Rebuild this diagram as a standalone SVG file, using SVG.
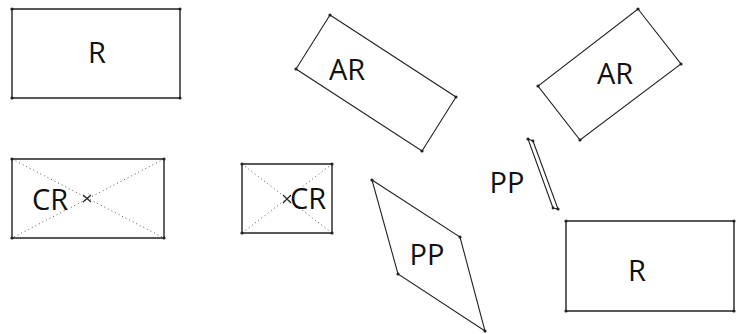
<svg xmlns="http://www.w3.org/2000/svg" width="736" height="334" viewBox="0 0 736 334">
<style>
.edge{fill:none;stroke:#222;stroke-width:1.1}
.rect{fill:none;stroke:#222;stroke-width:1.4}
.diag{fill:none;stroke:#555;stroke-width:1;stroke-dasharray:1 3}
.pt{fill:#222}
.lbl{font-family:"Open Sans","Liberation Sans",sans-serif;font-size:29px;fill:#111;text-anchor:middle}
</style>
<rect width="736" height="334" fill="#fff"/>
<g id="connectors"/>
<g id="r1">
<polygon class="rect" points="12,9 180,9 180,98 12,98"/>
<circle class="pt" cx="12" cy="9" r="1.6"/><circle class="pt" cx="180" cy="9" r="1.6"/><circle class="pt" cx="180" cy="98" r="1.6"/><circle class="pt" cx="12" cy="98" r="1.6"/>
<text class="lbl" x="97" y="63">R</text>
</g>
<g id="ar1">
<polygon class="edge" points="330,15 456,97 422,151 296,69"/>
<circle class="pt" cx="330" cy="15" r="1.6"/><circle class="pt" cx="456" cy="97" r="1.6"/><circle class="pt" cx="422" cy="151" r="1.6"/><circle class="pt" cx="296" cy="69" r="1.6"/>
<text class="lbl" x="347" y="80">AR</text>
</g>
<g id="ar2">
<polygon class="edge" points="638,9 681,64 580,140 538,86"/>
<circle class="pt" cx="638" cy="9" r="1.6"/><circle class="pt" cx="681" cy="64" r="1.6"/><circle class="pt" cx="580" cy="140" r="1.6"/><circle class="pt" cx="538" cy="86" r="1.6"/>
<text class="lbl" x="615" y="84">AR</text>
</g>
<g id="cr1">
<polygon class="rect" points="12,159 164,159 164,238 12,238"/>
<line class="diag" x1="12" y1="159" x2="164" y2="238"/>
<line class="diag" x1="164" y1="159" x2="12" y2="238"/>
<path class="edge" d="M83,195 L91,202 M83,202 L91,195"/>
<circle class="pt" cx="12" cy="159" r="1.6"/><circle class="pt" cx="164" cy="159" r="1.6"/><circle class="pt" cx="164" cy="238" r="1.6"/><circle class="pt" cx="12" cy="238" r="1.6"/>
<text class="lbl" x="50" y="210">CR</text>
</g>
<g id="cr2">
<polygon class="rect" points="242,164 332,164 332,233 242,233"/>
<line class="diag" x1="242" y1="164" x2="332" y2="233"/>
<line class="diag" x1="332" y1="164" x2="242" y2="233"/>
<path class="edge" d="M283,195 L291,203 M283,203 L291,195"/>
<circle class="pt" cx="242" cy="164" r="1.6"/><circle class="pt" cx="332" cy="164" r="1.6"/><circle class="pt" cx="332" cy="233" r="1.6"/><circle class="pt" cx="242" cy="233" r="1.6"/>
<text class="lbl" x="308" y="209">CR</text>
</g>
<g id="pp1">
<polygon class="edge" points="372,180 460,237 485,331 398,274"/>
<circle class="pt" cx="372" cy="180" r="1.6"/><circle class="pt" cx="460" cy="237" r="1.6"/><circle class="pt" cx="485" cy="331" r="1.6"/><circle class="pt" cx="398" cy="274" r="1.6"/>
<text class="lbl" x="427" y="265">PP</text>
</g>
<g id="pp2">
<polygon class="edge" points="528,139 533,141 558,209 553,208"/>
<circle class="pt" cx="528" cy="139" r="1.6"/><circle class="pt" cx="533" cy="141" r="1.4"/><circle class="pt" cx="558" cy="209" r="1.6"/><circle class="pt" cx="553" cy="208" r="1.4"/>
<text class="lbl" x="507" y="193">PP</text>
</g>
<g id="r2">
<polygon class="rect" points="566,221 734,221 734,311 566,311"/>
<circle class="pt" cx="566" cy="221" r="1.6"/><circle class="pt" cx="734" cy="221" r="1.6"/><circle class="pt" cx="734" cy="311" r="1.6"/><circle class="pt" cx="566" cy="311" r="1.6"/>
<text class="lbl" x="637" y="281">R</text>
</g>
</svg>
